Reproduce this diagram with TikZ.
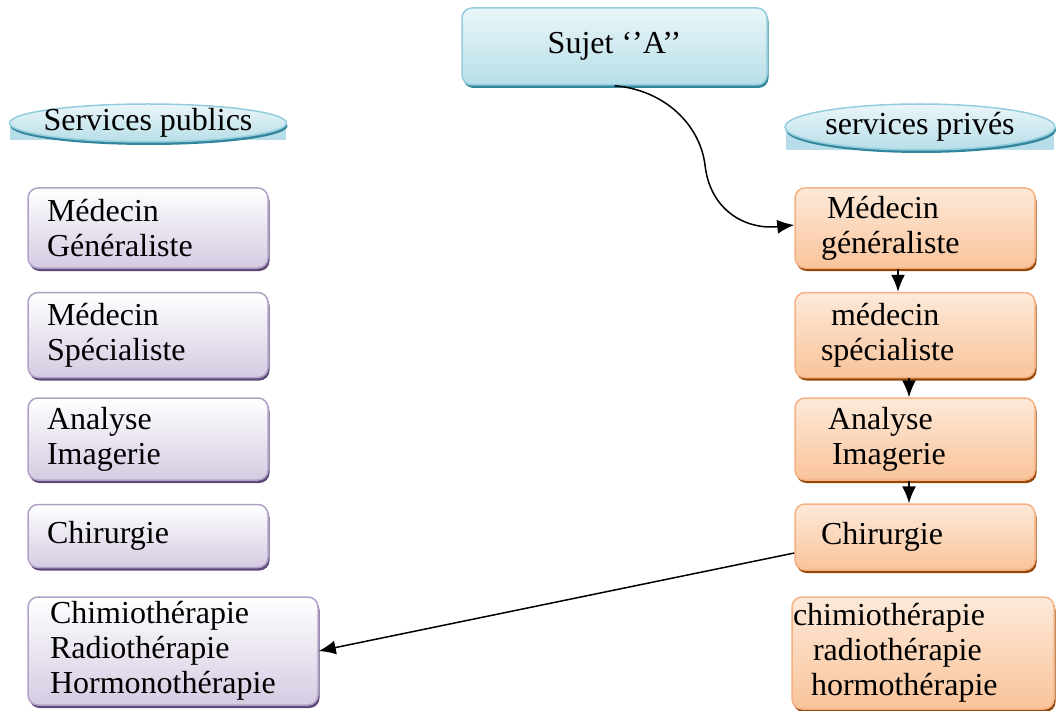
\documentclass[tikz,border=0pt]{standalone}
\usepackage{fontspec}
\setmainfont{Liberation Serif}
\usetikzlibrary{shapes.geometric, arrows.meta, shadows}
\definecolor{pubTop}{RGB}{255, 255, 255}
\definecolor{pubBot}{RGB}{213, 203, 226}
\definecolor{pubLine}{RGB}{178, 161, 199}
\definecolor{pubShadow}{RGB}{95, 73, 122}
\definecolor{privTop}{RGB}{253, 233, 217}
\definecolor{privBot}{RGB}{249, 196, 154}
\definecolor{privLine}{RGB}{244, 177, 131}
\definecolor{privShadow}{RGB}{152, 72, 6}
\definecolor{headTop}{RGB}{234, 246, 249}
\definecolor{headBot}{RGB}{183, 222, 232}
\definecolor{headLine}{RGB}{147, 205, 221}
\definecolor{headShadow}{RGB}{49, 133, 156}

\begin{document}
\begin{tikzpicture}
    [
		x=1pt, y=-1pt,
		font=\fontsize{32}{35}\selectfont,
		pubbox/.style={
			draw=pubLine, line width=1.5pt, rounded corners=10pt,
			top color=pubTop, bottom color=pubBot,
			drop shadow={shadow xshift=1.5pt, shadow yshift=-3pt, fill=pubShadow, opacity=1},
			align=left, inner xsep=19pt, inner ysep=0pt, text width=202pt
		},
		privbox/.style={
			draw=privLine, line width=1.5pt, rounded corners=10pt,
			top color=privTop, bottom color=privBot,
			drop shadow={shadow xshift=1.5pt, shadow yshift=-3pt, fill=privShadow, opacity=1},
			align=left, inner xsep=26pt, inner ysep=0pt, text width=188pt
		},
		headbox/.style={
			draw=headLine, line width=1.5pt, rounded corners=10pt,
			top color=headTop, bottom color=headBot,
			drop shadow={shadow xshift=1.5pt, shadow yshift=-3pt, fill=headShadow, opacity=1},
			align=center
		},
		sector/.style={
			ellipse, draw=headLine, line width=1.5pt,
			top color=headTop, bottom color=headBot,
			drop shadow={shadow xshift=1pt, shadow yshift=-3pt, fill=headShadow, opacity=1},
			inner xsep=-8pt, inner ysep=-2pt
		},
		link/.style={
			-{Latex[length=17pt, width=14pt]}, line width=1.5pt
		}
	]
\useasboundingbox (0,0) rectangle (1056,711);

% flat lower bands under the two ellipses
\fill [headBot] (10,123) rectangle (286,140);
\fill [headBot] (786,127) rectangle (1054,150);

% Nodes
\node (sujet) [headbox, minimum width=305pt, minimum height=77pt] at (614.5,46.5) {Sujet `'A'{}'};
\node (pub) [sector, minimum width=277pt, minimum height=38pt] at (148,123) {Services publics};
\node (priv) [sector, minimum width=270pt, minimum height=46pt] at (920,127) {services privés};

\node (l1) [pubbox, minimum height=80pt] at (148,228) {Médecin\\Généraliste};
\node (l2) [pubbox, minimum height=85pt] at (148,335) {Médecin\\Spécialiste};
\node (l3) [pubbox, minimum height=82pt] at (148,439) {Analyse\\Imagerie};
\node (l4) [pubbox, minimum height=63pt] at (148,536) {Chirurgie};
\node (l5) [pubbox, minimum height=108pt, inner xsep=22pt, text width=246pt] at (173,651)
	{Chimiothérapie\\Radiothérapie\\Hormonothérapie};

\node (r1) [privbox, minimum height=80pt] at (915,228) {\hspace*{6pt}Médecin\\généraliste};
\node (r2) [privbox, minimum height=85pt] at (915,335) {\hspace*{10pt}médecin\\spécialiste};
\node (r3) [privbox, minimum height=82pt] at (915,439) {\hspace*{7pt}Analyse\\\hspace*{11pt}Imagerie};
\node (r4) [privbox, minimum height=66pt] at (915,537) {Chirurgie};
\node (r5) [privbox, minimum height=112pt, inner xsep=1pt, text width=260pt] at (923,653)
	{chimiothérapie\\\hspace*{20pt}radiothérapie\\\hspace*{18pt}hormothérapie};

% Transitions
\draw [link] (sujet.south) .. controls (665,90) and (700,125) .. (705,165)
	.. controls (710,210) and (745,230) .. ([yshift=3pt]r1.west);

\draw [link] ([xshift=-17pt]r1.south) -- ([xshift=-17pt]r2.north);
\draw [link] ([xshift=-6pt]r2.south) -- ([xshift=-6pt]r3.north);
\draw [link] ([xshift=-6pt]r3.south) -- ([xshift=-6pt]r4.north);

\draw [link] ([yshift=-16pt]r4.west) -- (l5.east);

\end{tikzpicture}
\end{document}
